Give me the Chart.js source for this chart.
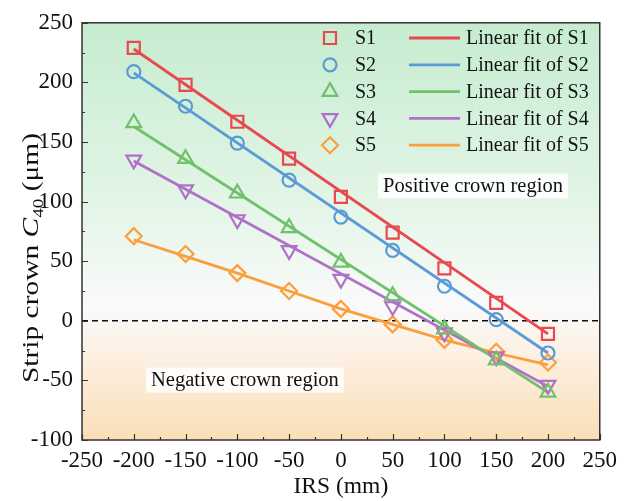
<!DOCTYPE html>
<html>
<head>
<meta charset="utf-8">
<script src="https://cdn.jsdelivr.net/npm/chart.js@4"></script>
<style>
  html, body { margin: 0; padding: 0; background: #fff; }
  #wrap { width: 624px; height: 501px; }
</style>
</head>
<body>
<div id="wrap"><canvas id="chart" width="624" height="501"></canvas></div>
<script>
// IRS positions (mm)
const irs = [-200, -150, -100, -50, 0, 50, 100, 150, 200];

// measured strip crown C40 (um)
const s1 = [229, 198, 167, 136, 104, 74, 44, 15, -11];
const s2 = [209, 180, 149, 118, 87, 59, 29, 1, -27];
const s3 = [166, 136, 107, 78, 49, 21, -7, -33, -60];
const s4 = [135, 110, 85, 59, 35, 12, -10, -30, -54];
const s5 = [71, 56, 40, 25, 10, -3, -16, -26, -35];

// fitted lines: S1-S4 by their end values, S5 traced at every IRS position
const fitX = [-200, 200];
const fit1 = [228, -11];
const fit2 = [208, -27];
const fit3 = [163, -60];
const fit4 = [134, -55];
const fit5X = irs;
const fit5 = [68, 54, 40, 25, 10, -3, -16, -27, -37];

const seriesNames = ['S1', 'S2', 'S3', 'S4', 'S5'];
const colors = ['#e8484e', '#5b9bd5', '#6fc16c', '#b06fc8', '#fb9e3c'];
const markers = [
  { style: 'rect', radius: 8.5, rotation: 0 },
  { style: 'circle', radius: 6.5, rotation: 0 },
  { style: 'triangle', radius: 8.5, rotation: 0 },
  { style: 'triangle', radius: 8.5, rotation: 180 },
  { style: 'rectRot', radius: 8, rotation: 0 }
];

const SERIF = '"Liberation Serif", "Times New Roman", serif';

const points = [s1, s2, s3, s4, s5];
const fits = [fit1, fit2, fit3, fit4, fit5];
const fitXs = [fitX, fitX, fitX, fitX, fit5X];

const datasets = [];
fits.forEach((f, i) => {
  datasets.push({
    label: 'Linear fit of ' + seriesNames[i],
    data: fitXs[i].map((x, j) => ({ x: x, y: f[j] })),
    showLine: true,
    borderColor: colors[i],
    borderWidth: 2.8,
    pointRadius: 0,
    order: 2
  });
});
points.forEach((vals, i) => {
  datasets.push({
    label: seriesNames[i],
    data: irs.map((x, j) => ({ x: x, y: vals[j] })),
    showLine: false,
    pointStyle: markers[i].style,
    pointRadius: markers[i].radius,
    rotation: markers[i].rotation,
    pointBorderColor: colors[i],
    pointBackgroundColor: 'rgba(0,0,0,0)',
    pointBorderWidth: 2.2,
    order: 1
  });
});

// gradient background: green above zero, fading to orange below
const backgroundPlugin = {
  id: 'regionBackground',
  beforeDraw(chart) {
    const { ctx, chartArea: a } = chart;
    const g = ctx.createLinearGradient(0, a.top, 0, a.bottom);
    g.addColorStop(0, 'rgb(198,236,208)');
    g.addColorStop(0.42, 'rgb(226,245,230)');
    g.addColorStop(0.68, 'rgb(250,250,250)');
    g.addColorStop(0.8, 'rgb(252,240,226)');
    g.addColorStop(1, 'rgb(251,222,182)');
    ctx.save();
    ctx.fillStyle = g;
    ctx.fillRect(a.left, a.top, a.right - a.left, a.bottom - a.top);
    ctx.restore();
  }
};

// zero line, frame, inward ticks, region labels, legend, y title
const overlayPlugin = {
  id: 'overlay',
  beforeDatasetsDraw(chart) {
    const { ctx, chartArea: a, scales } = chart;
    const y0 = scales.y.getPixelForValue(0);
    ctx.save();
    ctx.strokeStyle = '#111';
    ctx.lineWidth = 1.4;
    ctx.setLineDash([6, 4]);
    ctx.beginPath();
    ctx.moveTo(a.left, y0);
    ctx.lineTo(a.right, y0);
    ctx.stroke();
    ctx.restore();

    // region labels on white boxes
    ctx.save();
    ctx.font = '20.5px ' + SERIF;
    ctx.textBaseline = 'middle';
    const labelBox = (text, x, y) => {
      const w = ctx.measureText(text).width;
      ctx.fillStyle = 'rgba(255,255,255,0.85)';
      ctx.fillRect(x - 5, y - 12.5, w + 10, 25);
      ctx.fillStyle = '#111';
      ctx.fillText(text, x, y + 1);
    };
    labelBox('Positive crown region', 383, 186);
    labelBox('Negative crown region', 151, 380);
    ctx.restore();
  },
  afterDraw(chart) {
    const { ctx, chartArea: a, scales } = chart;
    ctx.save();
    ctx.strokeStyle = '#333';
    ctx.lineWidth = 1.5;
    ctx.strokeRect(a.left, a.top, a.right - a.left, a.bottom - a.top);

    // inward ticks, major every 50 and minor every 25
    ctx.lineWidth = 1.2;
    ctx.beginPath();
    for (let v = -250; v <= 250; v += 25) {
      const px = Math.round(scales.x.getPixelForValue(v)) + 0.5;
      const len = v % 50 === 0 ? 6 : 3;
      ctx.moveTo(px, a.bottom);
      ctx.lineTo(px, a.bottom - len);
    }
    for (let v = -100; v <= 250; v += 25) {
      const py = Math.round(scales.y.getPixelForValue(v)) + 0.5;
      const len = v % 50 === 0 ? 6 : 3;
      ctx.moveTo(a.left, py);
      ctx.lineTo(a.left + len, py);
    }
    ctx.stroke();
    ctx.restore();

    // legend: marker column and fit-line column
    ctx.save();
    ctx.font = '20px ' + SERIF;
    ctx.textBaseline = 'middle';
    const nFit = fits.length;
    for (let i = 0; i < seriesNames.length; i++) {
      const y = 38 + i * 26.8;
      const ds = chart.data.datasets[nFit + i];
      ctx.strokeStyle = colors[i];
      ctx.fillStyle = 'rgba(0,0,0,0)';
      ctx.lineWidth = ds.pointBorderWidth;
      Chart.helpers.drawPoint(ctx, {
        pointStyle: ds.pointStyle,
        radius: ds.pointRadius,
        rotation: ds.rotation,
        borderWidth: ds.pointBorderWidth
      }, 330, y);
      ctx.fillStyle = '#111';
      ctx.fillText(seriesNames[i], 355, y + 1);

      ctx.strokeStyle = colors[i];
      ctx.lineWidth = 2.8;
      ctx.beginPath();
      ctx.moveTo(409, y);
      ctx.lineTo(460, y);
      ctx.stroke();
      ctx.fillText(chart.data.datasets[i].label, 466, y + 1);
    }
    ctx.restore();

    // y title: Strip crown C40 (um) with italic C and subscript
    ctx.save();
    ctx.translate(30, 258);
    ctx.rotate(-Math.PI / 2);
    ctx.scale(1.28, 1);
    ctx.fillStyle = '#111';
    ctx.textBaseline = 'alphabetic';
    const parts = [
      { t: 'Strip crown ', f: '23px ' + SERIF, dy: 0 },
      { t: 'C', f: 'italic 23px ' + SERIF, dy: 0 },
      { t: '40', f: '15px ' + SERIF, dy: 5 },
      { t: ' (\u03bcm)', f: '23px ' + SERIF, dy: 0 }
    ];
    let total = 0;
    parts.forEach(p => { ctx.font = p.f; p.w = ctx.measureText(p.t).width; total += p.w; });
    let x = -total / 2;
    parts.forEach(p => {
      ctx.font = p.f;
      ctx.fillText(p.t, x, 8 + p.dy);
      x += p.w;
    });
    ctx.restore();
  }
};

new Chart(document.getElementById('chart'), {
  type: 'scatter',
  data: { datasets: datasets },
  plugins: [backgroundPlugin, overlayPlugin],
  options: {
    responsive: false,
    animation: false,
    layout: { padding: { top: 21, right: 20, left: 0, bottom: 0 } },
    plugins: {
      legend: { display: false },
      tooltip: { enabled: false }
    },
    scales: {
      x: {
        type: 'linear',
        min: -250,
        max: 250,
        afterFit(scale) { scale.height = 61; },
        ticks: {
          stepSize: 50,
          color: '#111',
          padding: 7,
          font: { family: SERIF, size: 23 }
        },
        grid: { display: false, drawTicks: false },
        border: { display: false },
        title: {
          display: true,
          text: 'IRS (mm)',
          color: '#111',
          padding: { top: 0, bottom: 0 },
          font: { family: SERIF, size: 23.5 }
        }
      },
      y: {
        type: 'linear',
        min: -100,
        max: 250,
        afterFit(scale) { scale.width = 82; },
        ticks: {
          stepSize: 50,
          color: '#111',
          padding: 9,
          font: { family: SERIF, size: 23 }
        },
        grid: { display: false, drawTicks: false },
        border: { display: false }
      }
    }
  }
});
</script>
</body>
</html>
